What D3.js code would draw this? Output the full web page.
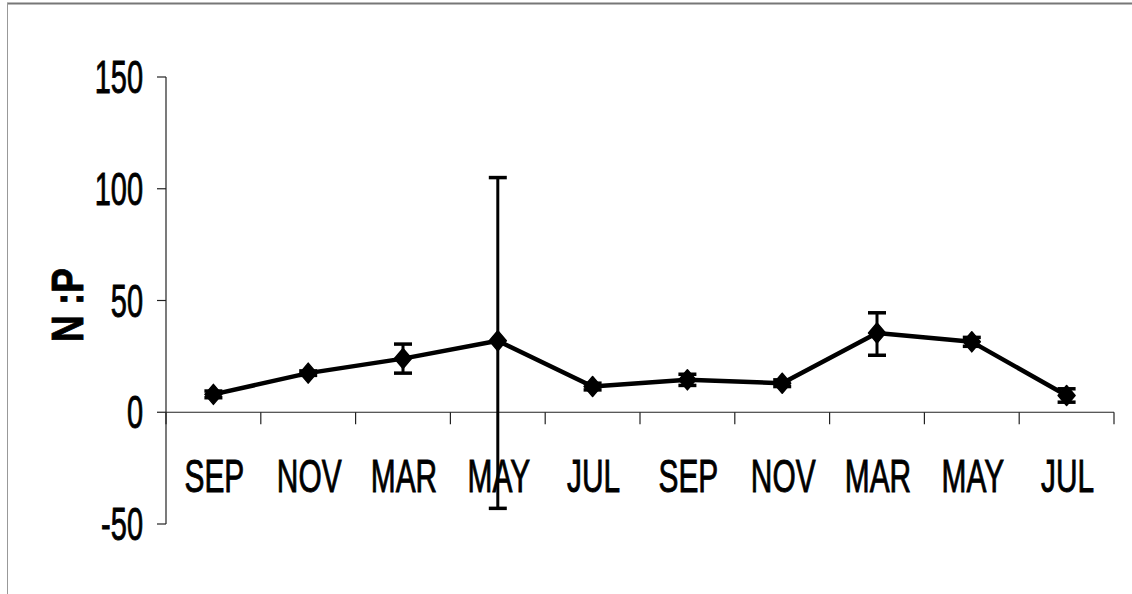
<!DOCTYPE html>
<html>
<head>
<meta charset="utf-8">
<script src="https://cdn.jsdelivr.net/npm/d3@7/dist/d3.min.js"></script>
<style>
  html, body { margin: 0; padding: 0; background: #fff; }
  svg { display: block; }
  text { font-family: "Liberation Sans", Arial, sans-serif; fill: #000; stroke: #000; stroke-width: 0.9; }
</style>
</head>
<body>
<script>
// Sampling months (two annual cycles)
const months = ["SEP", "NOV", "MAR", "MAY", "JUL", "SEP", "NOV", "MAR", "MAY", "JUL"];
// Mean N:P ratio per sampling date
const ratio = [8, 17.5, 24, 32, 11.5, 14.5, 13, 35.5, 31.5, 7.5];
// Error bar half-widths (upper / lower)
const errUp = [1.5, 1, 6.5, 73, 1.5, 2.5, 1.5, 9, 2, 3];
const errDown = [1.5, 1, 6.5, 75, 1.5, 2.5, 1.5, 10, 2, 3];
const yTicks = [-50, 0, 50, 100, 150];

const W = 1132, H = 594;
const svg = d3.select("body").append("svg").attr("width", W).attr("height", H);

// frame lines along the top and left edges
svg.append("line").attr("x1", 7).attr("x2", W).attr("y1", 3.5).attr("y2", 3.5)
  .attr("stroke", "#777").attr("stroke-width", 2);
svg.append("line").attr("x1", 7.5).attr("x2", 7.5).attr("y1", 3).attr("y2", H)
  .attr("stroke", "#999").attr("stroke-width", 1);

const idx = months.map((_, i) => i);
const x = d3.scaleBand().domain(idx).range([166, 1114]);
const y = d3.scaleLinear().domain([-50, 150]).range([524, 77]);
const cx = i => x(i) + x.bandwidth() / 2;

// y axis
const yAxis = svg.append("g").attr("transform", "translate(166,0)");
yAxis.append("line").attr("x1", 0).attr("x2", 0).attr("y1", y(150)).attr("y2", y(-50))
  .attr("stroke", "#222").attr("stroke-width", 1.2);
yAxis.selectAll("line.tick").data(yTicks).join("line").attr("class", "tick")
  .attr("x1", -9).attr("x2", 0).attr("y1", d => y(d)).attr("y2", d => y(d))
  .attr("stroke", "#222").attr("stroke-width", 1.2);
yAxis.selectAll("text").data(yTicks).join("text")
  .attr("transform", d => `translate(-23,${y(d) + 16}) scale(0.63,1)`)
  .attr("text-anchor", "end")
  .attr("font-size", 46)
  .text(d => d);

// x axis at zero
const xAxis = svg.append("g").attr("transform", `translate(0,${y(0)})`);
xAxis.append("line").attr("x1", 166).attr("x2", 1114).attr("y1", 0).attr("y2", 0)
  .attr("stroke", "#222").attr("stroke-width", 1.2);
const boundaries = idx.map(i => x(i)).concat([x(idx[idx.length - 1]) + x.bandwidth()]);
xAxis.selectAll("line.tick").data(boundaries).join("line").attr("class", "tick")
  .attr("x1", d => d).attr("x2", d => d).attr("y1", 0).attr("y2", 12)
  .attr("stroke", "#222").attr("stroke-width", 1.2);
xAxis.selectAll("text").data(idx).join("text")
  .attr("transform", i => `translate(${cx(i) + 1},80) scale(0.65,1)`)
  .attr("text-anchor", "middle")
  .attr("font-size", 46)
  .text(i => months[i]);

// y axis title
svg.append("text")
  .attr("transform", `translate(83,305) rotate(-90) scale(0.82,1)`)
  .attr("text-anchor", "middle")
  .attr("font-size", 45)
  .attr("font-weight", "bold")
  .attr("stroke-width", 0.4)
  .text("N :P");

// error bars
const eb = svg.append("g").attr("stroke", "#000").attr("stroke-width", 3);
idx.forEach(i => {
  const top = y(ratio[i] + errUp[i]), bot = y(ratio[i] - errDown[i]);
  eb.append("line").attr("x1", cx(i)).attr("x2", cx(i)).attr("y1", top).attr("y2", bot);
  eb.append("line").attr("x1", cx(i) - 9).attr("x2", cx(i) + 9).attr("y1", top).attr("y2", top)
    .attr("stroke-width", 3.5);
  eb.append("line").attr("x1", cx(i) - 9).attr("x2", cx(i) + 9).attr("y1", bot).attr("y2", bot)
    .attr("stroke-width", 3.5);
});

// series line
svg.append("path")
  .datum(idx)
  .attr("fill", "none")
  .attr("stroke", "#000")
  .attr("stroke-width", 4.5)
  .attr("stroke-linejoin", "round")
  .attr("d", d3.line().x(i => cx(i)).y(i => y(ratio[i])));

// diamond markers
svg.selectAll("path.marker").data(idx).join("path").attr("class", "marker")
  .attr("d", "M0,-10 L8.5,0 L0,10 L-8.5,0 Z")
  .attr("transform", i => `translate(${cx(i)},${y(ratio[i])})`)
  .attr("fill", "#000")
  .attr("stroke", "#000")
  .attr("stroke-width", 1.5)
  .attr("stroke-linejoin", "round");
</script>
</body>
</html>
